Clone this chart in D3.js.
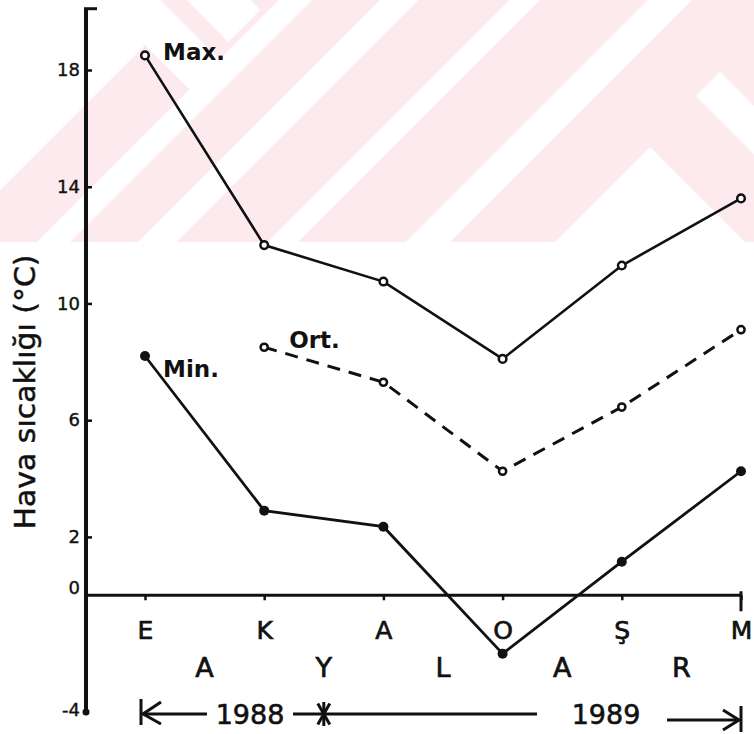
<!DOCTYPE html>
<html>
<head>
<meta charset="utf-8">
<script src="https://cdn.jsdelivr.net/npm/d3@7/dist/d3.min.js"></script>
<style>
  html, body { margin: 0; padding: 0; background: #ffffff; }
  svg { display: block; }
  text { font-family: "DejaVu Sans", "Liberation Sans", sans-serif; fill: #111; }
</style>
</head>
<body>
<svg id="chart" width="754" height="734"></svg>
<script>
// ---- data ----
const months = ["E", "K", "A", "O", "Ş", "M"];
const monthWord = ["A", "Y", "L", "A", "R"];
const maxVals = [18.5, 12.0, 10.75, 8.1, 11.3, 13.6];
const ortVals = [null, 8.5, 7.3, 4.25, 6.45, 9.1];
const minVals = [8.2, 2.9, 2.35, -2.0, 1.15, 4.25];
const yTickVals = [18, 14, 10, 6, 2, 0, -4];
const yearLabels = ["1988", "1989"];
const yLabel = "Hava sıcaklığı (°C)";
const seriesLabels = ["Max.", "Ort.", "Min."];

// decorative watermark stripes (x+y intercepts of "/" bands)
const wmBands = [[279, 312], [380, 418], [510, 540], [648, 692]];

const svg = d3.select("#chart");
const W = 754, H = 734;
const ink = "#111";

const x = d3.scalePoint().domain(months).range([145, 741]);
const y = d3.scaleLinear().domain([-4, 18]).range([712, 70]);
const y0 = y(0);
const axisX = 86;

// ---- watermark ----
const wmH = 242;
const wm = svg.append("g");
wm.append("clipPath").attr("id", "wmclip").append("rect")
  .attr("x", 0).attr("y", 0).attr("width", W).attr("height", wmH);
const wg = wm.append("g").attr("clip-path", "url(#wmclip)");
wg.append("rect").attr("x", 0).attr("y", 0).attr("width", W).attr("height", wmH).attr("fill", "#fdeaee");
wmBands.forEach(([c1, c2]) => {
  wg.append("polygon")
    .attr("points", [[c1, 0], [c2, 0], [c2 - wmH, wmH], [c1 - wmH, wmH]].map(p => p.join(",")).join(" "))
    .attr("fill", "#fff");
});
wg.append("polygon").attr("points", "650,147 797,294 503,294").attr("fill", "#fff");
wg.append("polygon").attr("points", "696,96 720,72 900,252 852,252").attr("fill", "#fff");
wg.append("polygon").attr("points", "187,0 250,0 260,10 228,42").attr("fill", "#fff");
wg.append("polygon").attr("points", "0,0 160,0 235,75 205,105 145,45 0,190").attr("fill", "#fff");

// ---- y axis ----
const yAxis = d3.axisLeft(y).tickValues(yTickVals).tickSize(-6).tickPadding(6)
  .tickFormat(d => d);
const ya = svg.append("g").attr("transform", `translate(${axisX},0)`).call(yAxis);
ya.select(".domain").remove();
ya.selectAll(".tick line").attr("stroke", ink).attr("stroke-width", 2.5)
  .attr("display", d => (d === 0 || d === -4) ? "none" : null);
ya.selectAll(".tick text")
  .attr("font-size", 18)
  .attr("fill", ink)
  .attr("stroke", ink).attr("stroke-width", 0.4)
  .attr("font-family", "'Liberation Sans', sans-serif")
  .attr("dy", d => d === 0 ? "-0.1em" : (d === -4 ? "0.2em" : "0.32em"));

const yTopVal = 20.1;
svg.append("line").attr("x1", axisX).attr("x2", axisX)
  .attr("y1", y(yTopVal)).attr("y2", y(-4))
  .attr("stroke", ink).attr("stroke-width", 4);
svg.append("line").attr("x1", axisX - 2).attr("x2", axisX + 11)
  .attr("y1", y(yTopVal)).attr("y2", y(yTopVal))
  .attr("stroke", ink).attr("stroke-width", 3);
svg.append("circle").attr("cx", axisX).attr("cy", y(-4)).attr("r", 3.5).attr("fill", ink);

// ---- x axis ----
const xAxis = d3.axisBottom(x).tickSize(5).tickPadding(21);
const xa = svg.append("g").attr("transform", `translate(0,${y0})`).call(xAxis);
xa.select(".domain").remove();
xa.selectAll(".tick line").attr("stroke", ink).attr("stroke-width", 2.5);
xa.selectAll(".tick text").attr("font-size", 25).attr("fill", ink)
  .attr("stroke", ink).attr("stroke-width", 0.7)
  .attr("font-family", "'DejaVu Sans', sans-serif");
svg.append("line").attr("x1", axisX).attr("x2", x("M"))
  .attr("y1", y0).attr("y2", y0).attr("stroke", ink).attr("stroke-width", 3);
svg.append("line").attr("x1", x("M")).attr("x2", x("M"))
  .attr("y1", y0 - 4).attr("y2", y0 + 16).attr("stroke", ink).attr("stroke-width", 3);

// second row (AYLAR)
svg.append("g").selectAll("text").data(monthWord).join("text")
  .attr("x", (d, i) => (x(months[i]) + x(months[i + 1])) / 2)
  .attr("y", y0 + 82)
  .attr("text-anchor", "middle")
  .attr("font-size", 27)
  .attr("stroke", ink).attr("stroke-width", 0.7)
  .text(d => d);

// ---- y label ----
svg.append("text")
  .attr("transform", `translate(35,${392}) rotate(-90)`)
  .attr("text-anchor", "middle")
  .attr("font-size", 29)
  .attr("stroke", ink).attr("stroke-width", 0.5)
  .attr("textLength", 275)
  .attr("lengthAdjust", "spacingAndGlyphs")
  .text(yLabel);

// ---- series ----
const line = d3.line()
  .defined(d => d.v !== null)
  .x(d => x(d.m))
  .y(d => y(d.v));
const toPts = vals => months.map((m, i) => ({ m, v: vals[i] }));

const maxPts = toPts(maxVals), ortPts = toPts(ortVals), minPts = toPts(minVals);

svg.append("path").attr("d", line(maxPts)).attr("fill", "none")
  .attr("stroke", ink).attr("stroke-width", 2.6);
svg.append("path").attr("d", line(ortPts.filter(d => d.v !== null))).attr("fill", "none")
  .attr("stroke", ink).attr("stroke-width", 3).attr("stroke-dasharray", "13,9");
svg.append("path").attr("d", line(minPts)).attr("fill", "none")
  .attr("stroke", ink).attr("stroke-width", 2.8);

svg.append("g").selectAll("circle").data(maxPts).join("circle")
  .attr("cx", d => x(d.m)).attr("cy", d => y(d.v)).attr("r", 3.8)
  .attr("fill", "#fff").attr("stroke", ink).attr("stroke-width", 2.5);
svg.append("g").selectAll("circle").data(ortPts.filter(d => d.v !== null)).join("circle")
  .attr("cx", d => x(d.m)).attr("cy", d => y(d.v)).attr("r", 3.6)
  .attr("fill", "#fff").attr("stroke", ink).attr("stroke-width", 2.5);
svg.append("g").selectAll("circle").data(minPts).join("circle")
  .attr("cx", d => x(d.m)).attr("cy", d => y(d.v)).attr("r", 5)
  .attr("fill", ink);

// series labels
svg.append("text").attr("x", x("E") + 18).attr("y", y(maxVals[0]) + 5)
  .attr("font-size", 23).attr("font-weight", "bold").text(seriesLabels[0]);
svg.append("text").attr("x", x("K") + 25).attr("y", y(ortVals[1]) + 1)
  .attr("font-size", 23).attr("font-weight", "bold").text(seriesLabels[1]);
svg.append("text").attr("x", x("E") + 18).attr("y", y(minVals[0]) + 21)
  .attr("font-size", 23).attr("font-weight", "bold").text(seriesLabels[2]);

// ---- year row ----
const yr = y(-4) + 2;
const g = svg.append("g").attr("stroke", ink).attr("stroke-width", 3).attr("fill", "none");
const xE = x("E") - 4, xM = x("M");
g.append("line").attr("x1", xE).attr("x2", xE).attr("y1", yr - 15).attr("y2", yr + 11);
g.append("polyline").attr("points", `${xE + 20},${yr - 12} ${xE + 2},${yr} ${xE + 20},${yr + 10}`);
g.append("line").attr("x1", xE + 2).attr("x2", xE + 66).attr("y1", yr).attr("y2", yr);
const ax = (x("K") + x("A")) / 2;
g.append("line").attr("x1", xE + 152).attr("x2", 537).attr("y1", yr).attr("y2", yr);
[60, 90, 120].forEach(a => {
  const r = 12, t = a * Math.PI / 180;
  g.append("line")
    .attr("x1", ax - r * Math.cos(t)).attr("y1", yr - r * Math.sin(t))
    .attr("x2", ax + r * Math.cos(t)).attr("y2", yr + r * Math.sin(t));
});
g.append("line").attr("x1", xM - 74).attr("x2", xM - 2).attr("y1", yr + 6).attr("y2", yr + 6);
g.append("polyline").attr("points", `${xM - 18},${yr - 4} ${xM - 2},${yr + 6} ${xM - 18},${yr + 16}`);
g.append("line").attr("x1", xM).attr("x2", xM).attr("y1", yr - 8).attr("y2", yr + 18);

svg.append("text").attr("x", 250).attr("y", yr + 10).attr("text-anchor", "middle")
  .attr("font-size", 27).attr("stroke", ink).attr("stroke-width", 0.6).text(yearLabels[0]);
svg.append("text").attr("x", 606).attr("y", yr + 10).attr("text-anchor", "middle")
  .attr("font-size", 27).attr("stroke", ink).attr("stroke-width", 0.6).text(yearLabels[1]);
</script>
</body>
</html>
